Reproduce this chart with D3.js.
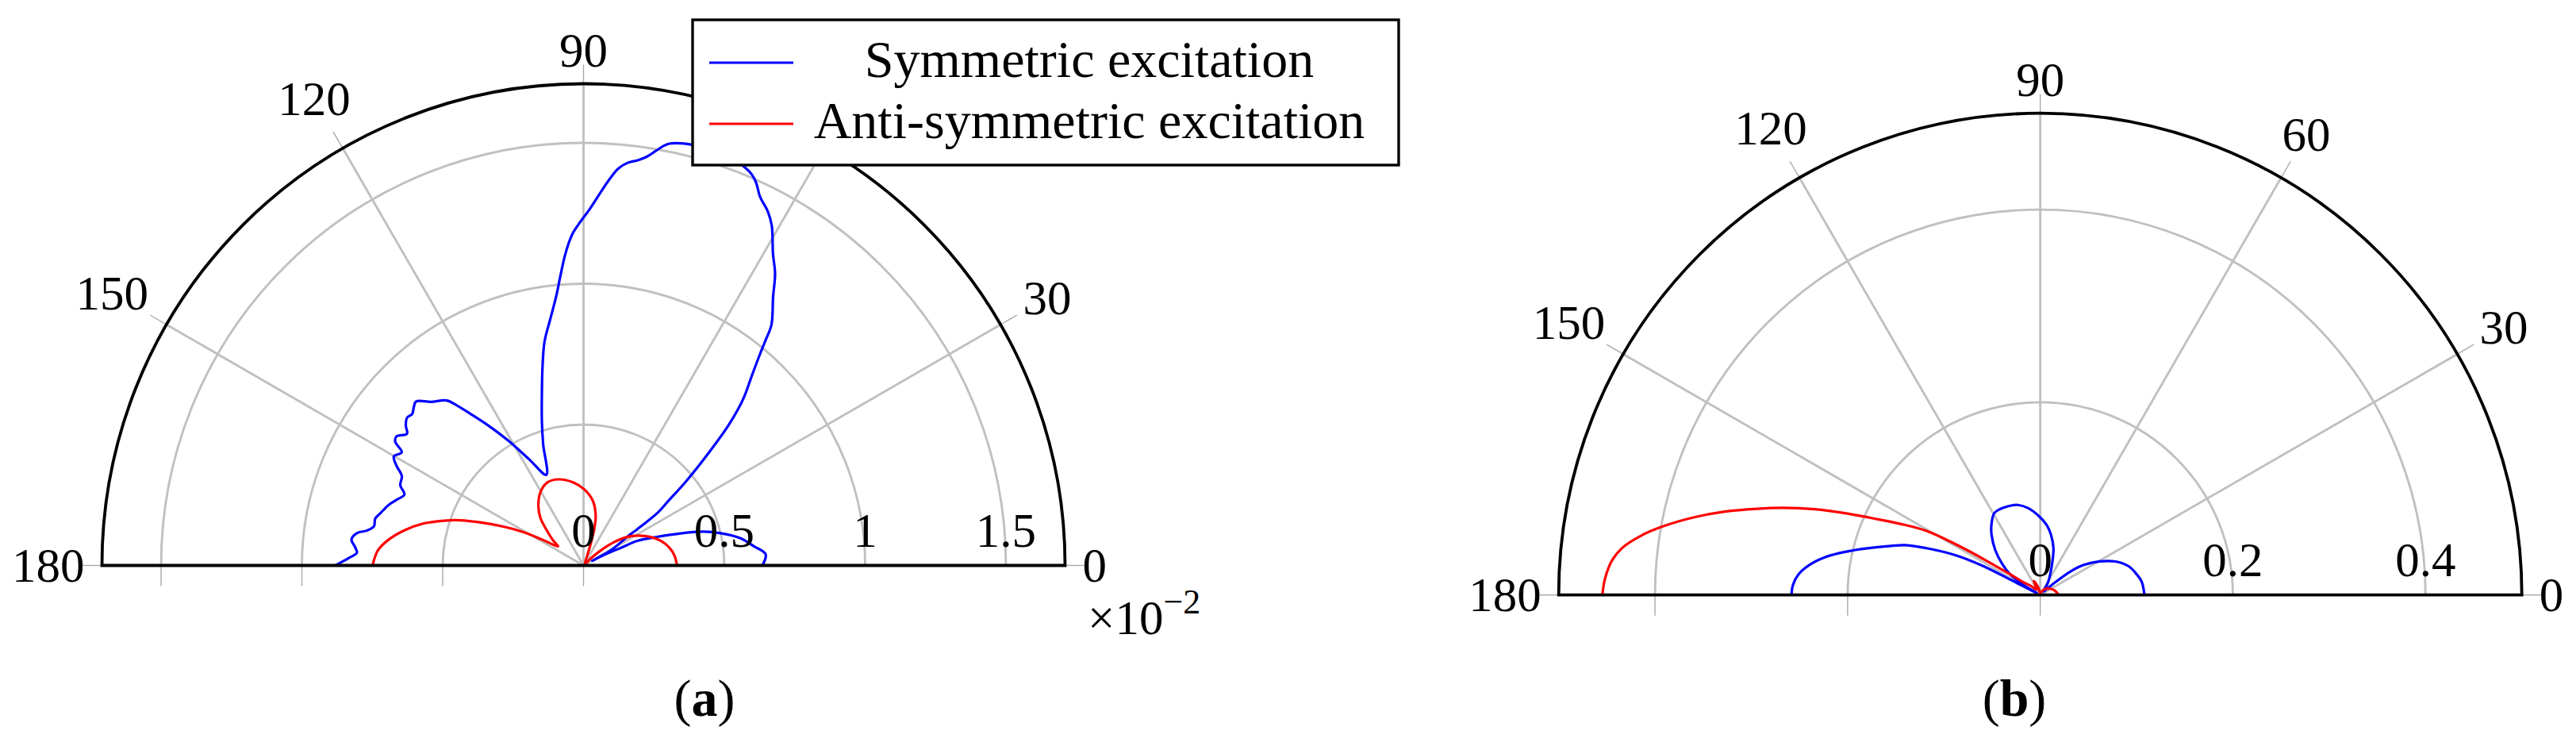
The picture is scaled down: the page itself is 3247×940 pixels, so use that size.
<!DOCTYPE html>
<html>
<head>
<meta charset="utf-8">
<script src="https://cdn.jsdelivr.net/npm/d3@7"></script>
<style>
  body { margin: 0; background: #fff; }
  text { font-family: "Liberation Serif", "Times New Roman", serif; fill: #000; }
</style>
</head>
<body>
<div id="fig"></div>
<script>
// ---- data (angle in degrees, radius in plot units) ----
var seriesNames = ["Symmetric excitation", "Anti-symmetric excitation"];
var seriesColors = ["#0000ff", "#ff0000"];
var angleTicks = [0, 30, 60, 90, 120, 150, 180];

// panel (a), values x 10^-2
var thetaSymA = [0, 3.5, 6.4, 9.8, 13.4, 15.7, 18.1, 21.4, 24.5, 25.2, 27, 28, 29, 33.6, 34, 35.5, 37, 39.4, 42, 44.1, 46.2, 48.4, 50.2, 51.1, 52, 54.8, 56.7, 58.7, 61, 62.5, 64.4, 65.7, 66.7, 68.2, 70.5, 73, 75.7, 77, 78.5, 79.2, 80.2, 81.2, 82.3, 83.8, 85, 86.1, 87.3, 88.95, 90.8, 91.8, 92.6, 93.5, 94.6, 95.8, 97.7, 99.9, 101.7, 103.8, 106.1, 108.4, 112.3, 117.2, 121.2, 124.5, 126.7, 128.3, 129.7, 133, 135.6, 137, 138.5, 140.1, 141.8, 143.3, 145.4, 146.7, 148.1, 150.1, 151.9, 153.8, 156.4, 158.4, 160.7, 162.8, 165.5, 167.3, 169.4, 170.8, 171.9, 173.6, 175.5, 176.8, 178.2, 180];
var rSymA = [0.635, 0.648, 0.609, 0.566, 0.496, 0.443, 0.369, 0.276, 0.21, 0.149, 0.088, 0.035, 0.111, 0.197, 0.231, 0.326, 0.37, 0.473, 0.6, 0.72, 0.82, 0.9, 0.981, 1.032, 1.084, 1.168, 1.239, 1.295, 1.379, 1.417, 1.451, 1.49, 1.511, 1.527, 1.54, 1.55, 1.542, 1.538, 1.528, 1.516, 1.491, 1.468, 1.452, 1.437, 1.414, 1.376, 1.329, 1.267, 1.212, 1.182, 1.147, 1.098, 1.029, 0.96, 0.882, 0.806, 0.718, 0.62, 0.533, 0.454, 0.348, 0.425, 0.52, 0.608, 0.671, 0.722, 0.761, 0.794, 0.832, 0.824, 0.812, 0.817, 0.803, 0.782, 0.807, 0.8, 0.76, 0.777, 0.753, 0.719, 0.71, 0.684, 0.704, 0.725, 0.744, 0.758, 0.757, 0.778, 0.813, 0.829, 0.813, 0.806, 0.834, 0.881];

var thetaAntiA = [0, 6.2, 11.8, 17.5, 23, 29, 33.3, 37.5, 40.4, 44, 52, 66, 71.3, 73.5, 76.4, 81.8, 89.4, 97.2, 106, 113.5, 120.5, 127.4, 132.2, 135.9, 140.6, 143, 148, 151, 154.3, 157.2, 159.9, 162.2, 165.4, 168.9, 172.5, 175.8, 180];
var rAntiA = [0.332, 0.325, 0.311, 0.289, 0.259, 0.219, 0.184, 0.135, 0.091, 0.044, 0.008, 0.02, 0.072, 0.1345, 0.184, 0.232, 0.27, 0.2975, 0.318, 0.3216, 0.3017, 0.2637, 0.228, 0.185, 0.1396, 0.113, 0.1735, 0.2435, 0.32, 0.394, 0.467, 0.52, 0.589, 0.648, 0.6985, 0.732, 0.749];

// panel (b)
var thetaSymB = [0, 7.3, 12.2, 18, 24, 29.5, 34.6, 37.8, 40, 43, 47, 58.5, 69.3, 74.4, 80, 84.6, 91, 97.8, 104, 108, 115.6, 119.5, 124.5, 128.9, 135.2, 140.6, 145.5, 149, 151, 152.8, 153.1, 154.7, 157.2, 159.8, 161.8, 164.9, 167.4, 170, 172.6, 175, 177.6, 180];
var rSymB = [0.1082, 0.1063, 0.1023, 0.0965, 0.0854, 0.0708, 0.0549, 0.0398, 0.022, 0.008, 0.005, 0.0157, 0.0349, 0.0509, 0.0637, 0.0727, 0.0819, 0.0909, 0.0963, 0.0976, 0.0984, 0.0973, 0.0894, 0.0806, 0.0657, 0.0514, 0.0382, 0.0208, 0.004, 0.03, 0.066, 0.0955, 0.1233, 0.15, 0.163, 0.1859, 0.2063, 0.2267, 0.2417, 0.2515, 0.2569, 0.2583];

var thetaAntiB = [0, 17, 34.5, 55, 90, 105, 115, 124, 136, 143, 145.5, 147.3, 148.3, 149.5, 150.7, 152.7, 155, 157.2, 159.2, 161.3, 163.1, 165.2, 167.4, 169.8, 171.6, 173.6, 175.5, 177.9, 180];
var rAntiB = [0.0192, 0.0158, 0.0116, 0.0071, 0.0025, 0.008, 0.016, 0.007, 0.0134, 0.0223, 0.0382, 0.0603, 0.0854, 0.1128, 0.1366, 0.1588, 0.1858, 0.2184, 0.2505, 0.282, 0.3078, 0.3387, 0.369, 0.3994, 0.4195, 0.437, 0.4465, 0.4523, 0.4547];

var rTicksA = [0, 0.5, 1, 1.5];
var rTickLabelsA = ["0", "0.5", "1", "1.5"];
var rTicksB = [0, 0.2, 0.4];
var rTickLabelsB = ["0", "0.2", "0.4"];

// ---- layout ----
var W = 3247, H = 940, R = 607;
var tickFont = 61, tickLen = 24;

var svg = d3.select("#fig").append("svg")
  .attr("width", W)
  .attr("height", H);

function zip(th, rr) {
  return th.map(function(t, i) { return { t: t, r: rr[i] }; });
}

function drawPanel(cfg) {
  var g = svg.append("g")
    .attr("transform", "translate(" + cfg.cx + "," + cfg.cy + ")");

  var rScale = d3.scaleLinear().domain([0, cfg.rMax]).range([0, R]);
  var rad = function(deg) { return deg * Math.PI / 180; };

  // grid circles
  cfg.rTicks.filter(function(v) { return v > 0; }).forEach(function(v) {
    var p = d3.path();
    p.moveTo(-rScale(v), 0);
    p.arc(0, 0, rScale(v), Math.PI, 2 * Math.PI);
    g.append("path").attr("d", p.toString())
      .attr("fill", "none").attr("stroke", "#c0c0c0").attr("stroke-width", 2.9);
  });

  // spokes
  g.selectAll(".spoke").data(angleTicks.filter(function(a) { return a > 0 && a < 180; }))
    .enter().append("line")
    .attr("x1", 0).attr("y1", 0)
    .attr("x2", function(a) { return R * Math.cos(rad(a)); })
    .attr("y2", function(a) { return -R * Math.sin(rad(a)); })
    .attr("stroke", "#c0c0c0").attr("stroke-width", 2.9);

  // angular ticks outside the frame
  g.selectAll(".atick").data(angleTicks).enter().append("line")
    .attr("x1", function(a) { return R * Math.cos(rad(a)); })
    .attr("y1", function(a) { return -R * Math.sin(rad(a)); })
    .attr("x2", function(a) { return (R + tickLen) * Math.cos(rad(a)); })
    .attr("y2", function(a) { return -(R + tickLen) * Math.sin(rad(a)); })
    .attr("stroke", "#a8a8a8").attr("stroke-width", 1.4);

  // radial ticks below the baseline (left side)
  g.selectAll(".rtick").data(cfg.rTicks).enter().append("line")
    .attr("x1", function(v) { return -rScale(v); })
    .attr("x2", function(v) { return -rScale(v); })
    .attr("y1", 0).attr("y2", 26)
    .attr("stroke", "#a8a8a8").attr("stroke-width", 1.4);

  // data curves
  var line = d3.lineRadial()
    .angle(function(d) { return Math.PI / 2 - rad(d.t); })
    .radius(function(d) { return rScale(d.r); })
    .curve(d3.curveCatmullRom.alpha(0.5));

  cfg.series.forEach(function(s, i) {
    g.append("path")
      .datum(s)
      .attr("d", line)
      .attr("fill", "none")
      .attr("stroke", seriesColors[i])
      .attr("stroke-width", 3.2)
      .attr("stroke-linejoin", "round");
  });

  // frame
  var f = d3.path();
  f.moveTo(-R, 0);
  f.arc(0, 0, R, Math.PI, 2 * Math.PI);
  f.closePath();
  g.append("path").attr("d", f.toString())
    .attr("fill", "none").attr("stroke", "#000").attr("stroke-width", 3.8);

  // radial tick labels
  g.selectAll(".rlab").data(cfg.rTicks).enter().append("text")
    .attr("x", function(v) { return rScale(v); })
    .attr("y", -24)
    .attr("text-anchor", "middle")
    .style("font-size", tickFont + "px")
    .text(function(v, i) { return cfg.rTickLabels[i]; });

  // angle labels, pushed outward along the spoke (skip those under the legend)
  angleTicks.filter(function(a) { return cfg.hidden.indexOf(a) < 0; }).forEach(function(a) {
    var t = g.append("text")
      .attr("text-anchor", "middle")
      .style("font-size", tickFont + "px")
      .text(a);
    var hw = t.node().getComputedTextLength() / 2;
    var hh = 0.338 * tickFont;
    var c = Math.abs(Math.cos(rad(a))), s = Math.abs(Math.sin(rad(a)));
    var rb = Math.min(c > 1e-6 ? hw / c : Infinity, s > 1e-6 ? hh / s : Infinity);
    var k = s > c + 1e-6 ? 20 : (c > s + 1e-6 ? 12 : 16);
    var dist = R + 22 + rb + k * (hw / 30) * Math.abs(Math.sin(2 * rad(a)));
    t.attr("x", dist * Math.cos(rad(a)))
      .attr("y", -dist * Math.sin(rad(a)) + hh);
  });

  // panel caption
  var cap = svg.append("text")
    .attr("x", cfg.capX).attr("y", 902)
    .attr("text-anchor", "middle")
    .style("font-size", "66px");
  cap.append("tspan").text("(");
  cap.append("tspan").style("font-weight", "bold").text(cfg.caption);
  cap.append("tspan").text(")");

  return g;
}

drawPanel({
  cx: 735.5, cy: 712.5, rMax: 1.71,
  rTicks: rTicksA, rTickLabels: rTickLabelsA,
  series: [zip(thetaSymA, rSymA), zip(thetaAntiA, rAntiA)],
  caption: "a", capX: 888, hidden: [60]
});

drawPanel({
  cx: 2571.7, cy: 749.7, rMax: 0.5,
  rTicks: rTicksB, rTickLabels: rTickLabelsB,
  series: [zip(thetaSymB, rSymB), zip(thetaAntiB, rAntiB)],
  caption: "b", capX: 2539, hidden: []
});

// scale factor of panel (a)
var sc = svg.append("text")
  .attr("x", 1371).attr("y", 799)
  .style("font-size", tickFont + "px");
sc.append("tspan").text("\u00d710");
sc.append("tspan").attr("dy", -26).style("font-size", "44px").text("\u22122");

// legend (over panel a)
var leg = svg.append("g").attr("transform", "translate(873,25)");
leg.append("rect")
  .attr("width", 890).attr("height", 183)
  .attr("fill", "#fff").attr("stroke", "#000").attr("stroke-width", 3.4);

seriesNames.forEach(function(name, i) {
  var y = 54 + i * 77;
  leg.append("line")
    .attr("x1", 21).attr("x2", 127)
    .attr("y1", y).attr("y2", y)
    .attr("stroke", seriesColors[i]).attr("stroke-width", 3.2);
  leg.append("text")
    .attr("x", 500).attr("y", y + 18)
    .attr("text-anchor", "middle")
    .style("font-size", "66px")
    .text(name);
});
</script>
</body>
</html>
